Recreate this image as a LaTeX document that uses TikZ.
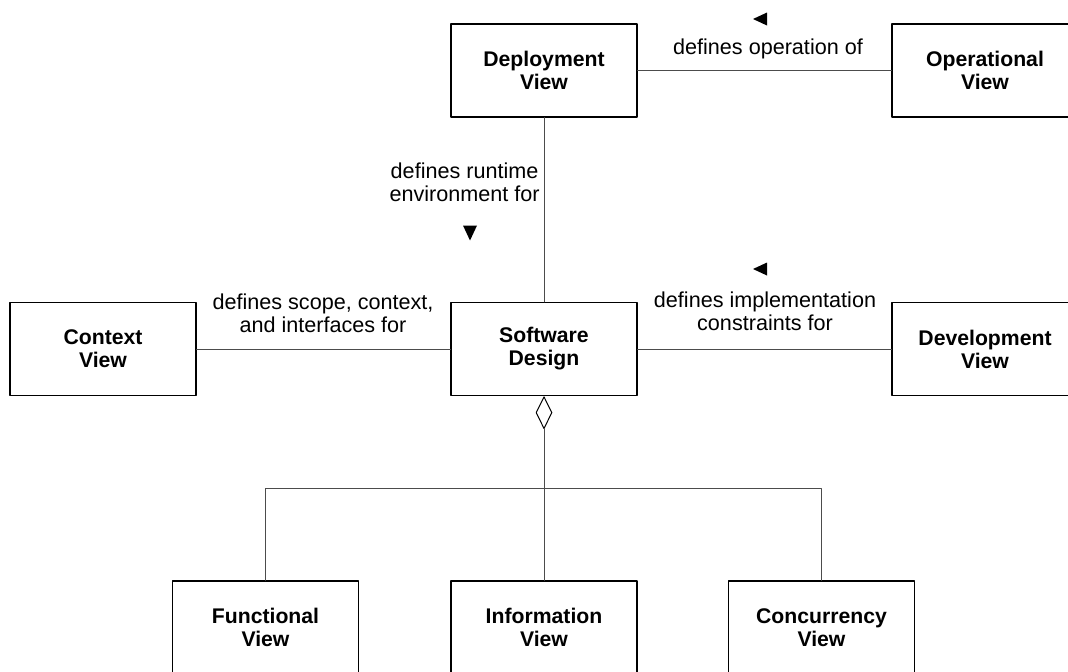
\documentclass[tikz,border=0pt]{standalone}
\usepackage{fontspec}
\setmainfont{Liberation Sans}
\usetikzlibrary{shapes.geometric}
\begin{document}
\begin{tikzpicture}[
  x=0.5pt,
  y=-0.5pt,
  line cap=round,
  line join=round,
  viewbox/.style={draw, line width=0.65pt, minimum width=93pt,
    minimum height=46.5pt, inner sep=0pt, align=center,
    font=\fontsize{10.6}{11.5}\selectfont\bfseries},
  link/.style={draw=black!70, line width=0.5pt},
  lbl/.style={align=center, inner sep=0pt,
    font=\fontsize{10.8}{11.5}\selectfont}
]
  \useasboundingbox (0,0) rectangle (1068,671);

  \def\top{70.5}
  \def\mid{349}
  \def\low{627.5}

  % Views
  \node[viewbox] (deploy)  at (544,\top) {Deployment\\View};
  \node[viewbox] (oper)    at (985,\top) {Operational\\View};
  \node[viewbox] (context) at (103,\mid) {Context\\View};
  \node[viewbox] (design)  at (544,\mid) {Software\\Design};
  \node[viewbox] (devel)   at (985,\mid) {Development\\View};
  \node[viewbox] (func)    at (265.5,\low) {Functional\\View};
  \node[viewbox] (info)    at (544,\low) {Information\\View};
  \node[viewbox] (conc)    at (821.5,\low) {Concurrency\\View};

  % Aggregation
  \node[diamond, draw, line width=0.5pt, inner sep=0pt,
    minimum width=8pt, minimum height=16pt, anchor=north]
    (agg) at (design.south) {};
  \coordinate (fork) at (544,488);

  % Links
  \draw[link] (deploy) -- (oper);
  \draw[link] (deploy) -- (design);
  \draw[link] (context) -- (design);
  \draw[link] (design) -- (devel);
  \draw[link] (agg) -- (info);
  \draw[link] (func.north) |- (fork) -| (conc.north);

  % Labels
  \node[lbl] (opLbl) at (768,49) {defines operation of};
  \node[lbl, anchor=east] (rtLbl) at (540,182)
    {defines runtime\\environment for};
  \node[lbl] (scLbl) at (323,313) {defines scope, context,\\and interfaces for};
  \node[lbl] (imLbl) at (765,311) {defines implementation\\constraints for};

  % Direction marks
  \fill[shift={(760,19)}] (-7,0) -- (7,-6.5) -- (7,6.5) -- cycle;
  \fill[shift={(760,269)}] (-7,0) -- (7,-6.5) -- (7,6.5) -- cycle;
  \fill[shift={(470,233)}] (-7,-7.5) -- (7,-7.5) -- (0,7.5) -- cycle;
\end{tikzpicture}
\end{document}
